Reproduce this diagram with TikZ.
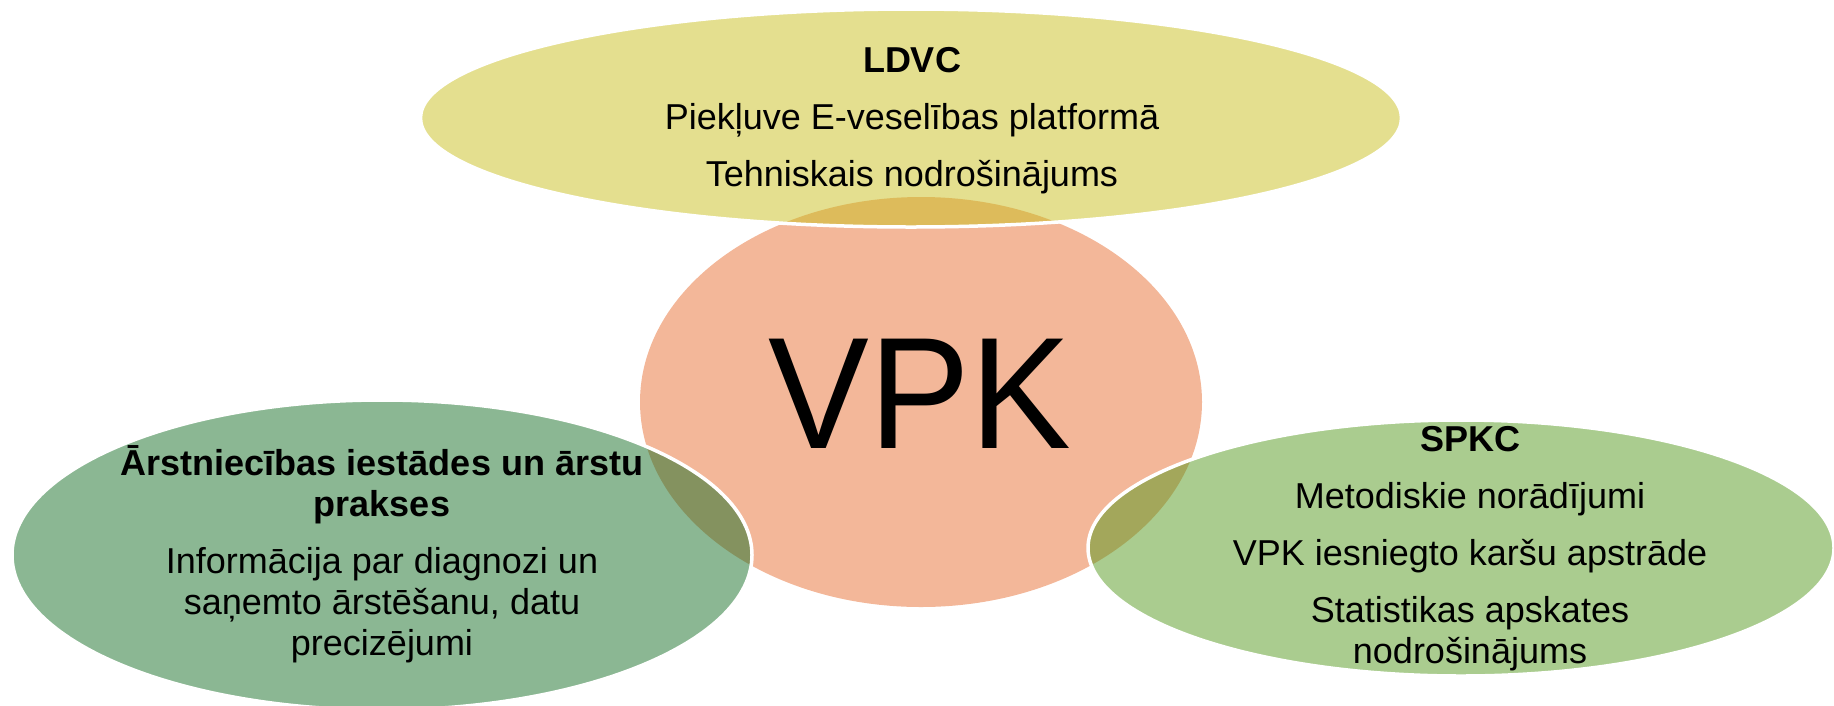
\documentclass[tikz,border=0pt]{standalone}
\usepackage{fontspec}
\setmainfont{Liberation Sans}
\newfontfamily\vpkfont{Liberation Sans}[FakeStretch=0.95]
\usetikzlibrary{shapes.geometric}
\definecolor{vpkc}{RGB}{243,183,153}
\definecolor{ldvcc}{RGB}{201,191,31}
\definecolor{arstc}{RGB}{23,111,39}
\definecolor{spkcc}{RGB}{85,153,31}
\begin{document}
\begin{tikzpicture}[x=1pt,y=-1pt,
  blob/.style={ellipse, inner sep=0pt, outer sep=0pt},
  outerblob/.style={blob, fill opacity=0.5, draw=white, draw opacity=1, line width=3.5pt},
  txt/.style={align=center, text=black, font=\fontsize{36}{41}\selectfont, inner sep=0pt}]
\useasboundingbox (0,0) rectangle (1834,705);
\node[blob, fill=vpkc, minimum width=562pt, minimum height=410pt] (vpk) at (921,402) {};
\node[outerblob, fill=ldvcc, minimum width=981pt, minimum height=218pt] (ldvc) at (911,118) {};
\node[outerblob, fill=arstc, minimum width=740pt, minimum height=310pt] (arst) at (382,555) {};
\node[outerblob, fill=spkcc, minimum width=746pt, minimum height=256pt] (spkc) at (1461,548) {};
\node[anchor=base, text=black, font=\vpkfont\fontsize{159}{165}\selectfont, inner sep=0pt] (vpkt) at (920,448) {VPK};
\node[txt] (ldvct) at (912,121) {\textbf{LDVC}\\[16pt]Piekļuve E-veselības platformā\\[16pt]Tehniskais nodrošinājums};
\node[txt] (arstt) at (382,554) {\textbf{Ārstniecības iestādes un ārstu}\\\textbf{prakses}\\[16pt]Informācija par diagnozi un\\saņemto ārstēšanu, datu\\precizējumi};
\node[txt] (spkct) at (1470,549) {\textbf{SPKC}\\[16pt]Metodiskie norādījumi\\[16pt]VPK iesniegto karšu apstrāde\\[16pt]Statistikas apskates\\nodrošinājums};
\end{tikzpicture}
\end{document}
